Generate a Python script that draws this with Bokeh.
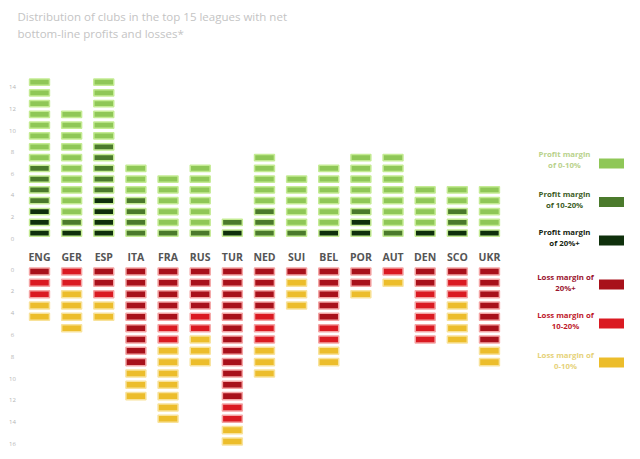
from bokeh.plotting import figure
from bokeh.models import Range1d, ColumnDataSource
from bokeh.core.properties import value
from bokeh.embed import file_html
from bokeh.resources import INLINE

# ---------------- data ----------------
countries = ["ENG", "GER", "ESP", "ITA", "FRA", "RUS", "TUR", "NED",
             "SUI", "BEL", "POR", "AUT", "DEN", "SCO", "UKR"]
# number of clubs per profit band (stacked from 0 upward: 20%+, 10-20%, 0-10%)
profit_20 = [3, 1, 4, 0, 0, 0, 1, 0, 0, 1, 2, 0, 1, 1, 1]
profit_10 = [4, 1, 5, 4, 1, 1, 1, 3, 1, 0, 1, 1, 0, 2, 0]
profit_0 = [8, 10, 6, 3, 5, 6, 0, 5, 5, 6, 5, 7, 4, 2, 4]
# number of clubs per loss band (stacked from 0 downward: 20%+, 10-20%, 0-10%)
loss_20 = [1, 0, 2, 9, 5, 4, 12, 4, 1, 5, 2, 0, 2, 1, 7]
loss_10 = [2, 2, 1, 0, 2, 2, 2, 3, 0, 2, 0, 1, 5, 2, 0]
loss_0 = [2, 4, 2, 3, 7, 3, 2, 3, 3, 2, 1, 1, 0, 4, 2]

profit_ticks = [0, 2, 4, 6, 8, 10, 12, 14]
loss_ticks = [0, 2, 4, 6, 8, 10, 12, 14, 16]

profit_labels = [["Profit margin", "of 0-10%"],
                 ["Profit margin", "of 10-20%"],
                 ["Profit margin", "of 20%+"]]
loss_labels = [["Loss margin of", "20%+"],
               ["Loss margin of", "10-20%"],
               ["Loss margin of", "0-10%"]]
title_lines = ["Distribution of clubs in the top 15 leagues with net",
               "bottom-line profits and losses*"]

# ---------------- styles ----------------
G_LIGHT, G_MID, G_DARK = "#8fc757", "#4b7a2c", "#0f300c"
R_DARK, R_MID, R_YEL = "#a8111b", "#da1a22", "#ecbd2b"
GLOW_G, GLOW_R, GLOW_Y = "#c4eb93", "#f4a4a4", "#f8e29a"
FONT = value("Open Sans")

# pixel geometry helpers (layout only)
X0, XP = 39.0, 32.14          # px of first column, px per column
PY0, PP = 238.0, 10.79        # px of profit 0, px per club
LY0, LP = 265.33, 11.33       # px of loss block origin, px per club
AY0, AP = 269.0, 10.9         # px of loss axis 0, px per unit
W, H = 640, 459

def xd(px):
    return (px - X0) / XP

def pyd(px):
    return (PY0 - px) / PP

def lyd(px):
    return (px - LY0) / LP

p = figure(width=W, height=H, output_backend="svg", toolbar_location=None,
           x_range=Range1d(xd(0), xd(W)),
           y_range=Range1d(pyd(H), pyd(0)),
           x_axis_location=None, y_axis_location=None,
           min_border=0, outline_line_color=None,
           background_fill_color="white", border_fill_color="white")
p.grid.visible = False
p.extra_y_ranges = {
    "loss": Range1d(lyd(H), lyd(0)),
    "lossaxis": Range1d((H - AY0) / AP, (0 - AY0) / AP),
}

# ---------------- blocks ----------------
def expand(groups, colors, glows):
    xs, ys, fc, lc = [], [], [], []
    for i in range(len(countries)):
        k = 0
        for g, c, gl in zip(groups, colors, glows):
            for _ in range(g[i]):
                xs.append(i)
                ys.append(k + 0.5)
                fc.append(c)
                lc.append(gl)
                k += 1
    return ColumnDataSource(dict(x=xs, y=ys, fc=fc, lc=lc))

psrc = expand([profit_20, profit_10, profit_0], [G_DARK, G_MID, G_LIGHT],
              [GLOW_G, GLOW_G, GLOW_G])
p.rect(x="x", y="y", width=0.62, height=0.58, source=psrc,
       fill_color="fc", line_color="lc", line_width=1.5)

lsrc = expand([loss_20, loss_10, loss_0], [R_DARK, R_MID, R_YEL],
              [GLOW_R, GLOW_R, GLOW_Y])
p.rect(x="x", y="y", width=0.62, height=0.62, source=lsrc,
       fill_color="fc", line_color="lc", line_width=1.5, y_range_name="loss")

# ---------------- axes texts ----------------
p.text(x=[xd(12)] * len(profit_ticks), y=profit_ticks,
       text=[str(t) for t in profit_ticks], text_font=FONT,
       text_font_size="6px", text_color="#b5b5b5",
       text_align="center", text_baseline="middle")
p.text(x=[xd(12)] * len(loss_ticks), y=loss_ticks,
       text=[str(t) for t in loss_ticks], text_font=FONT,
       text_font_size="6px", text_color="#b5b5b5",
       text_align="center", text_baseline="middle", y_range_name="lossaxis")

p.text(x=list(range(len(countries))), y=[pyd(256.5)] * len(countries),
       text=countries, text_font=FONT, text_font_size="10.5px",
       text_font_style="bold", text_color="#555555",
       text_align="center", text_baseline="middle")

# ---------------- title ----------------
p.text(x=[xd(17)] * 2, y=[pyd(15.5), pyd(32.5)], text=title_lines,
       text_font=FONT, text_font_size="11.5px", text_color="#c4c4c4",
       text_align="left", text_baseline="middle")

# ---------------- legend ----------------
p_txt_colors = ["#b9d28c", "#3d5d1f", "#16240f"]
p_line_px = [(153, 164), (193, 204), (231, 242)]
p_sq_px = [163, 201.5, 240]
for lab, col, (a, b), sq, fill in zip(profit_labels, p_txt_colors, p_line_px,
                                       p_sq_px, [G_LIGHT, G_MID, G_DARK]):
    p.text(x=[xd(564)] * 2, y=[pyd(a), pyd(b)], text=lab, text_font=FONT,
           text_font_size="7.8px", text_font_style="bold", text_color=col,
           text_align="center", text_baseline="middle")
    p.rect(x=[xd(611)], y=[pyd(sq)], width=25 / XP, height=10 / PP,
           fill_color=fill, line_color=None)

l_txt_colors = ["#9b1530", "#c01a2c", "#e6d27a"]
l_line_px = [(276, 287), (314, 325), (354, 365)]
l_sq_px = [284, 323, 362]
for lab, col, (a, b), sq, fill in zip(loss_labels, l_txt_colors, l_line_px,
                                       l_sq_px, [R_DARK, R_MID, R_YEL]):
    p.text(x=[xd(565)] * 2, y=[lyd(a), lyd(b)], text=lab, text_font=FONT,
           text_font_size="7.8px", text_font_style="bold", text_color=col,
           text_align="center", text_baseline="middle", y_range_name="loss")
    p.rect(x=[xd(611)], y=[lyd(sq)], width=25 / XP, height=10 / LP,
           fill_color=fill, line_color=None, y_range_name="loss")

open("out.html", "w").write(file_html(p, INLINE))
